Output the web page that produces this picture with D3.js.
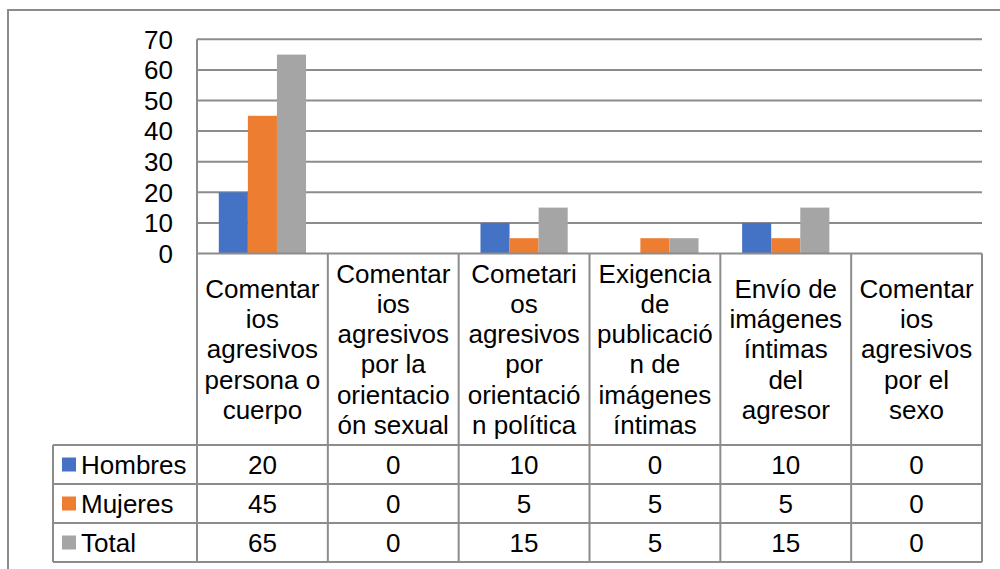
<!DOCTYPE html>
<html>
<head>
<meta charset="utf-8">
<script src="https://cdn.jsdelivr.net/npm/d3@7"></script>
<style>
  html, body { margin: 0; padding: 0; background: #fff; }
  svg text { font-family: "Liberation Sans", Arial, sans-serif; fill: #000; }
</style>
</head>
<body>
<svg id="chart" width="1000" height="569"></svg>
<script>
// category labels, already broken into lines the way the table shows them
const categories = [
  ['Comentar', 'ios', 'agresivos', 'persona o', 'cuerpo'],
  ['Comentar', 'ios', 'agresivos', 'por la', 'orientacio', 'ón sexual'],
  ['Cometari', 'os', 'agresivos', 'por', 'orientació', 'n política'],
  ['Exigencia', 'de', 'publicació', 'n de', 'imágenes', 'íntimas'],
  ['Envío de', 'imágenes', 'íntimas', 'del', 'agresor'],
  ['Comentar', 'ios', 'agresivos', 'por el', 'sexo']
];
const seriesNames = ['Hombres', 'Mujeres', 'Total'];
const hombres = [20, 0, 10, 0, 10, 0];
const mujeres = [45, 0, 5, 5, 5, 0];
const total = [65, 0, 15, 5, 15, 0];
const yTicks = [0, 10, 20, 30, 40, 50, 60, 70];
const colors = ['#4472C4', '#ED7D31', '#A5A5A5'];

const seriesValues = [hombres, mujeres, total];
const lineColor = '#8c8c8c';
const fontSize = 26;

const svg = d3.select('#chart');

// outer chart border (extends past right and bottom of the picture)
svg.append('path')
  .attr('d', 'M8,1000 L8,10 L1000,10')
  .attr('fill', 'none')
  .attr('stroke', lineColor)
  .attr('stroke-width', 2);

const plotLeft = 197, plotRight = 982;
const plotTop = 39.3, plotBottom = 253.5;
const tableLeft = 53;
const rowH = 39;
const headerBottom = 445;

const idx = d3.range(categories.length);
const x0 = d3.scaleBand().domain(idx).range([plotLeft, plotRight]).paddingInner(0).paddingOuter(0);
const x1 = d3.scaleBand().domain(d3.range(seriesNames.length)).range([0, x0.bandwidth()]).paddingInner(0).paddingOuter(0.75);
const y = d3.scaleLinear().domain([0, 70]).range([plotBottom, plotTop]);

// gridlines
svg.append('g')
  .selectAll('line')
  .data(yTicks.filter(t => t > 0))
  .enter().append('line')
  .attr('x1', plotLeft).attr('x2', plotRight)
  .attr('y1', d => y(d)).attr('y2', d => y(d))
  .attr('stroke', lineColor)
  .attr('stroke-width', 2);

// y tick labels
svg.append('g')
  .selectAll('text')
  .data(yTicks)
  .enter().append('text')
  .attr('x', 173)
  .attr('y', d => y(d))
  .attr('dy', '0.36em')
  .attr('text-anchor', 'end')
  .style('font-size', fontSize + 'px')
  .text(d => d);

// bars
const groups = svg.append('g')
  .selectAll('g')
  .data(idx)
  .enter().append('g')
  .attr('transform', i => `translate(${x0(i)},0)`);

groups.selectAll('rect')
  .data(i => seriesValues.map((vals, s) => ({ s: s, v: vals[i] })))
  .enter().append('rect')
  .filter(d => d.v > 0)
  .attr('x', d => x1(d.s))
  .attr('width', x1.bandwidth())
  .attr('y', d => y(d.v))
  .attr('height', d => y(0) - y(d.v))
  .attr('fill', d => colors[d.s]);

// data table lines
const rowYs = d3.range(seriesNames.length + 1).map(r => headerBottom + r * rowH);
const tableBottom = rowYs[rowYs.length - 1];
const lines = svg.append('g').attr('stroke', lineColor).attr('stroke-width', 2);

// axis / zero line and header top
lines.append('line').attr('x1', plotLeft).attr('x2', plotRight).attr('y1', y(0)).attr('y2', y(0));
// vertical axis line down through the table
lines.append('line').attr('x1', plotLeft).attr('x2', plotLeft).attr('y1', plotTop).attr('y2', tableBottom);
// column separators
idx.forEach(i => {
  const xr = x0(i) + x0.bandwidth();
  lines.append('line').attr('x1', xr).attr('x2', xr).attr('y1', y(0)).attr('y2', tableBottom);
});
// legend column left edge
lines.append('line').attr('x1', tableLeft).attr('x2', tableLeft).attr('y1', headerBottom).attr('y2', tableBottom);
// row lines
rowYs.forEach(ry => {
  lines.append('line').attr('x1', tableLeft).attr('x2', plotRight).attr('y1', ry).attr('y2', ry);
});

// category header text
const lineH = 30.3;
const headerMid = (y(0) + headerBottom) / 2;
idx.forEach(i => {
  const cx = x0(i) + x0.bandwidth() / 2;
  const lbl = categories[i];
  svg.append('g')
    .selectAll('text')
    .data(lbl)
    .enter().append('text')
    .attr('x', cx)
    .attr('y', (d, k) => headerMid + (k - (lbl.length - 1) / 2) * lineH + 9)
    .attr('text-anchor', 'middle')
    .style('font-size', fontSize + 'px')
    .text(d => d);
});

// legend keys and values
seriesNames.forEach((name, s) => {
  const cy = rowYs[s] + rowH / 2;
  svg.append('rect')
    .attr('x', 62).attr('y', cy - 7)
    .attr('width', 14).attr('height', 14)
    .attr('fill', colors[s]);
  svg.append('text')
    .attr('x', 81).attr('y', cy).attr('dy', '0.36em')
    .style('font-size', fontSize + 'px')
    .text(name);
  svg.append('g')
    .selectAll('text')
    .data(seriesValues[s])
    .enter().append('text')
    .attr('x', (d, i) => x0(i) + x0.bandwidth() / 2)
    .attr('y', cy).attr('dy', '0.36em')
    .attr('text-anchor', 'middle')
    .style('font-size', fontSize + 'px')
    .text(d => d);
});
</script>
</body>
</html>
